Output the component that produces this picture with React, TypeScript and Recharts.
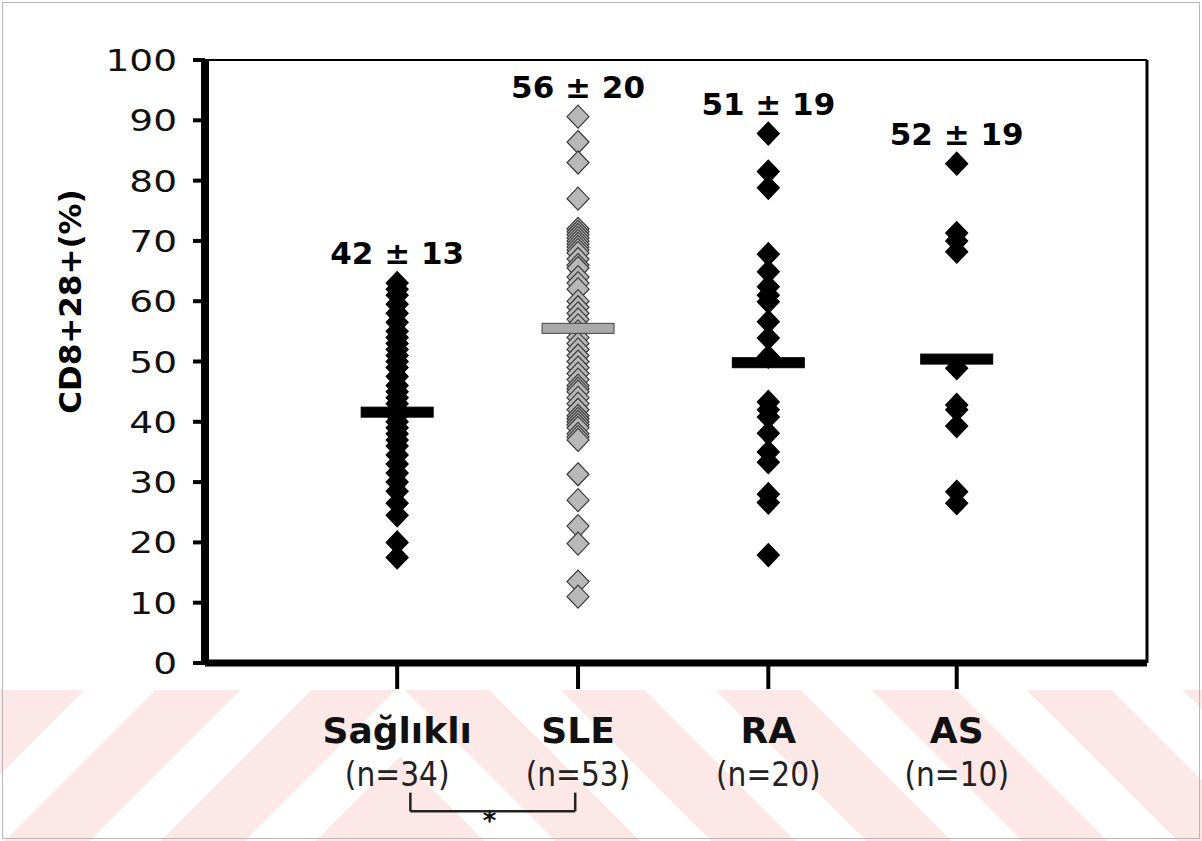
import { ScatterChart, Scatter, XAxis, YAxis, ReferenceLine, ReferenceDot } from 'recharts'

const categories = ['Sağlıklı', 'SLE', 'RA', 'AS']
const groupN = ['(n=34)', '(n=53)', '(n=20)', '(n=10)']
const xPositions = [1.02, 1.98, 2.99, 3.99]
const summaryLabels = ['42 ± 13', '56 ± 20', '51 ± 19', '52 ± 19']
const groupMeans = [41.6, 55.5, 49.8, 50.4]
const yTicks = [0, 10, 20, 30, 40, 50, 60, 70, 80, 90, 100]

const saglikliValues = [
  63, 62, 61, 59.5, 58, 56.5, 55, 54, 53, 52, 51, 50, 49, 47.5, 46, 45, 44, 43, 42, 41, 40, 39, 38,
  37, 36, 34.5, 33, 31.5, 30, 28.5, 26.5, 24.5, 20, 17.5,
]
const sleValues = [
  90.6, 86.4, 83, 77, 72, 71.5, 71, 70.5, 70, 69.5, 69, 68.5, 68, 67, 66, 65.5, 64, 63, 62, 60, 59,
  58, 57, 56, 55, 54, 53, 52, 51, 50, 49, 48, 47, 46, 45.5, 45, 44, 43, 42, 41, 40.5, 40, 39.5, 39,
  38, 37.5, 37, 31.3, 27, 22.7, 19.8, 13.5, 11,
]
const raValues = [
  87.8, 81.5, 78.8, 67.8, 64.9, 62.4, 61, 59.9, 56.6, 53.9, 50.8, 43.3, 42, 40.8, 38.1, 35, 33.3, 28,
  26.6, 17.9,
]
const asValues = [82.8, 71.3, 70, 68.2, 48.9, 42.8, 42, 39.3, 28.4, 26.5]

const groupValues = [saglikliValues, sleValues, raValues, asValues]

const pts = (vals: number[], i: number) => vals.map((y) => ({ x: xPositions[i], y }))
const meanData = groupMeans.map((y, i) => ({ x: xPositions[i], y, i }))
const labelData = groupValues.map((vals, i) => ({
  x: xPositions[i],
  y: Math.max(...vals),
  text: summaryLabels[i],
}))

const BLACK_FILL = '#000'
const GRAY_FILL = '#b8b8b8'
const GRAY_EDGE = '#3a3a3a'

function diamond(fill: string, stroke: string) {
  return (p: any) => {
    const { cx, cy } = p
    if (cx == null || cy == null) return <g />
    return (
      <polygon
        points={`${cx},${cy - 11.5} ${cx + 11},${cy} ${cx},${cy + 11.5} ${cx - 11},${cy}`}
        fill={fill}
        stroke={stroke}
        strokeWidth={1.2}
      />
    )
  }
}

function MeanBar(p: any) {
  const { cx, cy, payload } = p
  const gray = payload.i === 1
  return (
    <rect
      x={cx - 36}
      y={cy - 5}
      width={72}
      height={10}
      fill={gray ? '#a9a9a9' : '#000'}
      stroke={gray ? '#444' : '#000'}
      strokeWidth={1}
    />
  )
}

function SummaryText(p: any) {
  const { cx, cy, payload } = p
  return (
    <text
      x={cx}
      y={cy - 19}
      textAnchor="middle"
      fontFamily="'DejaVu Sans', Verdana, sans-serif"
      fontWeight="bold"
      fontSize={31}
      fill="#000"
    >
      {payload.text}
    </text>
  )
}

function YTick({ x, y, payload }: any) {
  return (
    <text
      transform={`translate(${x - 14},${y + 11}) scale(1.25,1)`}
      textAnchor="end"
      fontFamily="'DejaVu Sans', Verdana, sans-serif"
      fontSize={30}
      fill="#111"
    >
      {payload.value}
    </text>
  )
}

function XTick({ x, y, payload }: any) {
  const i = xPositions.indexOf(payload.value)
  if (i < 0) return <g />
  return (
    <g>
      <text
        x={x}
        y={y + 52}
        textAnchor="middle"
        fontFamily="'DejaVu Sans', Verdana, sans-serif"
        fontWeight="bold"
        fontSize={36}
        fill="#111"
      >
        {categories[i]}
      </text>
      <text
        x={x}
        y={y + 95}
        textAnchor="middle"
        fontFamily="'Liberation Sans Narrow', 'DejaVu Sans Condensed', sans-serif"
        fontSize={33}
        fill="#222"
      >
        {groupN[i]}
      </text>
    </g>
  )
}

function YLabel({ viewBox }: any) {
  const cx = 70
  const cy = viewBox.y + viewBox.height / 2 - 60
  return (
    <text
      transform={`translate(${cx},${cy}) rotate(-90)`}
      textAnchor="middle"
      dominantBaseline="central"
      fontFamily="'DejaVu Sans', Verdana, sans-serif"
      fontWeight="bold"
      fontSize={31}
      fill="#000"
    >
      CD8+28+(%)
    </text>
  )
}

const stripes: React.CSSProperties = {
  position: 'absolute',
  top: 690,
  height: 151,
  pointerEvents: 'none',
}

export default function App() {
  return (
    <div
      style={{
        position: 'fixed',
        left: 0,
        top: 0,
        width: 1202,
        height: 841,
        background: '#fff',
        overflow: 'hidden',
      }}
    >
      <div
        style={{
          ...stripes,
          left: 0,
          width: 400,
          background:
            'repeating-linear-gradient(135deg, #fde8e8 0px, #fde8e8 60px, #fff 60px, #fff 110px)',
        }}
      />
      <div
        style={{
          ...stripes,
          left: 400,
          width: 802,
          background:
            'repeating-linear-gradient(45deg, #fde8e8 0px, #fde8e8 60px, #fff 60px, #fff 110px)',
        }}
      />
      <div
        style={{
          position: 'absolute',
          left: 2,
          top: 2,
          right: 2,
          bottom: 2,
          border: '1px solid #b5b5b5',
        }}
      />
      <div style={{ position: 'absolute', left: 0, top: 0 }}>
        <ScatterChart width={1202} height={841} margin={{ top: 60, right: 55, bottom: 0, left: 10 }}>
          <XAxis
            type="number"
            dataKey="x"
            domain={[0, 5]}
            ticks={xPositions}
            interval={0}
            tick={<XTick />}
            axisLine={{ stroke: '#000', strokeWidth: 7 }}
            tickLine={{ stroke: '#000', strokeWidth: 4 }}
            tickSize={26}
            height={178}
          />
          <YAxis
            type="number"
            dataKey="y"
            domain={[0, 100]}
            ticks={yTicks}
            interval={0}
            tick={<YTick />}
            axisLine={{ stroke: '#000', strokeWidth: 8 }}
            tickLine={{ stroke: '#000', strokeWidth: 4 }}
            tickSize={12}
            width={195}
            label={<YLabel />}
          />
          <ReferenceLine y={100} stroke="#000" strokeWidth={2} />
          <ReferenceLine x={5} stroke="#000" strokeWidth={3} />
          <Scatter data={pts(saglikliValues, 0)} shape={diamond(BLACK_FILL, '#000')} isAnimationActive={false} />
          <Scatter data={pts(sleValues, 1)} shape={diamond(GRAY_FILL, GRAY_EDGE)} isAnimationActive={false} />
          <Scatter data={pts(raValues, 2)} shape={diamond(BLACK_FILL, '#000')} isAnimationActive={false} />
          <Scatter data={pts(asValues, 3)} shape={diamond(BLACK_FILL, '#000')} isAnimationActive={false} />
          <Scatter data={meanData} shape={MeanBar} isAnimationActive={false} />
          <Scatter data={labelData} shape={SummaryText} isAnimationActive={false} />
          <ReferenceLine
            segment={[
              { x: 1.09, y: -21.5 },
              { x: 1.09, y: -24.6 },
            ]}
            stroke="#222"
            strokeWidth={2.5}
            ifOverflow="visible"
          />
          <ReferenceLine
            segment={[
              { x: 1.09, y: -24.6 },
              { x: 1.965, y: -24.6 },
            ]}
            stroke="#222"
            strokeWidth={2.5}
            ifOverflow="visible"
          />
          <ReferenceLine
            segment={[
              { x: 1.965, y: -21.5 },
              { x: 1.965, y: -24.6 },
            ]}
            stroke="#222"
            strokeWidth={2.5}
            ifOverflow="visible"
          />
          <ReferenceDot
            x={1.51}
            y={-26.5}
            ifOverflow="visible"
            shape={(p: any) => (
              <text
                x={p.cx}
                y={p.cy + 7}
                textAnchor="middle"
                fontFamily="'DejaVu Sans', sans-serif"
                fontWeight="bold"
                fontSize={26}
                fill="#111"
              >
                *
              </text>
            )}
          />
        </ScatterChart>
      </div>
    </div>
  )
}
